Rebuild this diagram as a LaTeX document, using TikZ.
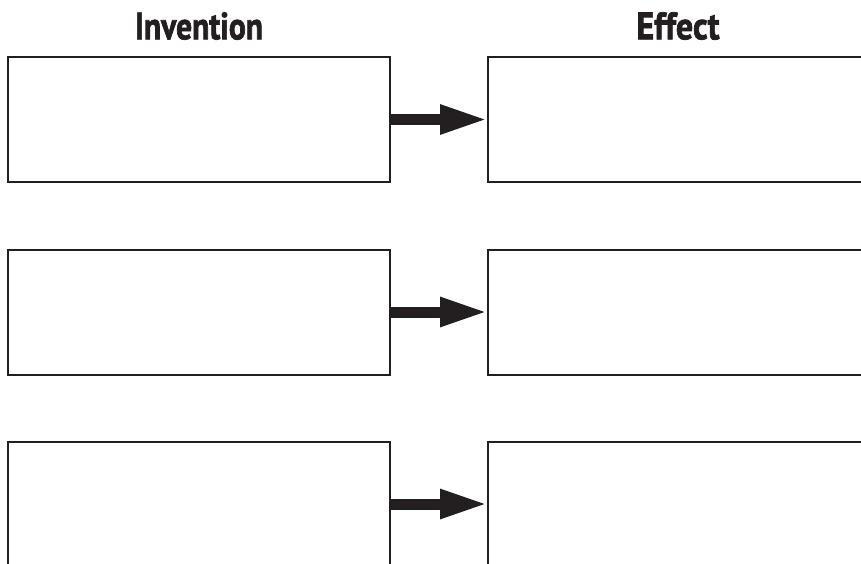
\documentclass[tikz,border=0pt]{standalone}
\usepackage{fontspec}
\usepackage{graphicx}
\setmainfont{PT Sans}
\newfontfamily\heavy{PT Sans}[FakeBold=2]
\usetikzlibrary{arrows.meta}
\definecolor{ink}{HTML}{231F20}
\tikzset{
  box/.style={draw=ink, line width=2pt, fill=white, inner sep=0pt, outer sep=0pt, minimum height=125pt},
  lbox/.style={box, minimum width=382pt},
  rbox/.style={box, minimum width=400pt},
  flow/.style={draw=ink, line width=11pt, -{Triangle[length=48pt,width=27pt]}, color=ink},
  title/.style={inner sep=0pt, text=ink, font=\heavy\bfseries}
}
\begin{document}
\begin{tikzpicture}[x=1pt,y=-1pt]
\useasboundingbox (0,0) rectangle (861,564);
\clip (0,0) rectangle (861,564);
\node[title, anchor=south] (tinv) at (199,40) {\resizebox{128pt}{27pt}{Invention}};
\node[title, anchor=south] (teff) at (678,40) {\resizebox{83pt}{27pt}{Effect}};
\node[lbox] (l1) at (199,119.5) {};
\node[rbox] (r1) at (688,119.5) {};
\node[lbox] (l2) at (199,312) {};
\node[rbox] (r2) at (688,312) {};
\node[lbox] (l3) at (199,504) {};
\node[rbox] (r3) at (688,504) {};
\draw[flow] (l1.east) -- (r1.west);
\draw[flow] (l2.east) -- (r2.west);
\draw[flow] (l3.east) -- (r3.west);
\end{tikzpicture}
\end{document}
